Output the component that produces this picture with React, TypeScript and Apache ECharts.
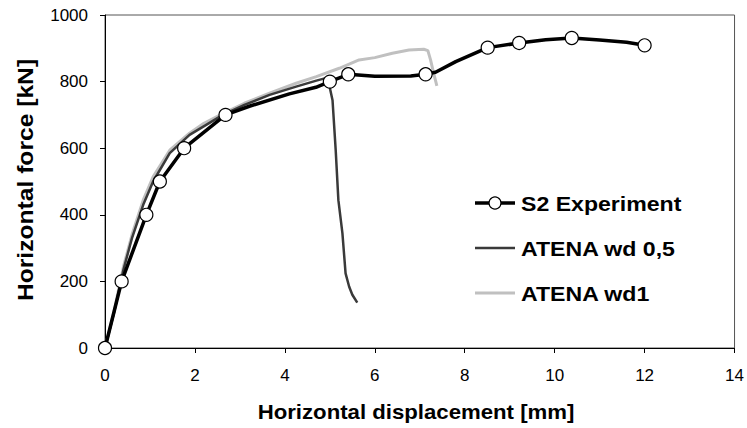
import React, { useEffect, useRef } from "react";
import * as echarts from "echarts";

// S2 Experiment: x, y and whether a marker is drawn at the point
const expX = [0, 0.37, 0.92, 1.22, 1.76, 2.68, 3.21, 4.1, 4.69, 5.0, 5.41, 6.0, 6.8, 7.13, 7.35, 7.8, 8.51, 9.21, 9.8, 10.38, 11.0, 11.6, 12.0];
const expY = [0, 200, 400, 500, 600, 700, 726, 763, 783, 800, 822, 816, 817, 822, 828, 860, 902, 916, 926, 931, 925, 918, 909];
const expMarker = [1, 1, 1, 1, 1, 1, 0, 0, 0, 1, 1, 0, 0, 1, 0, 0, 1, 1, 0, 1, 0, 0, 1];

const wd05X = [0, 0.2, 0.41, 0.6, 0.85, 1.07, 1.44, 1.88, 2.62, 3.1, 3.66, 4.25, 4.7, 4.95, 5.06, 5.13, 5.19, 5.28, 5.35, 5.43, 5.5, 5.61];
const wd05Y = [0, 105, 235, 330, 430, 500, 585, 640, 700, 730, 760, 785, 803, 812, 744, 595, 444, 344, 224, 184, 160, 136];

const wd1X = [0, 0.2, 0.41, 0.6, 0.85, 1.07, 1.44, 1.88, 2.2, 2.62, 3.1, 3.66, 4.25, 4.7, 5.21, 5.65, 6.0, 6.39, 6.76, 7.09, 7.18, 7.24, 7.3, 7.38];
const wd1Y = [0, 110, 244, 340, 444, 514, 594, 645, 675, 704, 735, 765, 795, 815, 840, 865, 872, 885, 895, 897, 893, 865, 830, 787];

const seriesNames = ["S2 Experiment", "ATENA wd 0,5", "ATENA wd1"];
const seriesColors = ["#000000", "#3a3a3a", "#c0c0c0"];
const xTitle = "Horizontal displacement [mm]";
const yTitle = "Horizontal force [kN]";

const FONT = "'Liberation Sans', Arial, sans-serif";

export default function App() {
  const ref = useRef<HTMLDivElement>(null);
  useEffect(() => {
    if (!ref.current) return;
    const chart = echarts.init(ref.current, null, { renderer: "svg" });
    const expData = expX.map((x, i) =>
      expMarker[i] ? { value: [x, expY[i]] } : { value: [x, expY[i]], symbol: "none" }
    );

    const legendRows = [203, 248, 293];
    const legendGraphics: any[] = [];
    seriesNames.forEach((name, i) => {
      const y = legendRows[i];
      legendGraphics.push({
        type: "line",
        shape: { x1: 475, y1: y, x2: 515, y2: y },
        style: { stroke: seriesColors[i], lineWidth: i === 0 ? 3.5 : i === 1 ? 2.5 : 3 },
      });
      if (i === 0) {
        legendGraphics.push({
          type: "circle",
          shape: { cx: 495, cy: y, r: 6 },
          style: { fill: "#fff", stroke: "#000", lineWidth: 1.2 },
        });
      }
      legendGraphics.push({
        type: "text",
        x: 521,
        y: y + 1,
        scaleX: 1.1,
        style: {
          text: name,
          fill: "#000",
          font: `bold 21px ${FONT}`,
          textAlign: "left",
          textVerticalAlign: "middle",
          verticalAlign: "middle",
        },
      });
    });

    chart.setOption({
      animation: false,
      backgroundColor: "#fff",
      grid: {
        left: 105,
        right: 10,
        top: 15,
        bottom: 80,
        show: true,
        borderColor: "#555",
        borderWidth: 1,
      },
      graphic: [
        ...legendGraphics,
        {
          type: "text",
          x: 416,
          y: 412,
          scaleX: 1.11,
          style: {
            text: xTitle,
            fill: "#000",
            font: `bold 20px ${FONT}`,
            textAlign: "center",
            textVerticalAlign: "middle",
            verticalAlign: "middle",
          },
        },
        {
          type: "text",
          x: 25,
          y: 180,
          rotation: Math.PI / 2,
          scaleX: 1.12,
          style: {
            text: yTitle,
            fill: "#000",
            font: `bold 22px ${FONT}`,
            textAlign: "center",
            textVerticalAlign: "middle",
            verticalAlign: "middle",
          },
        },
      ],
      xAxis: {
        type: "value",
        min: 0,
        max: 14,
        interval: 2,
        axisLine: { lineStyle: { color: "#000", width: 1 } },
        axisTick: { show: true, length: 5, lineStyle: { color: "#000" } },
        axisLabel: { fontFamily: FONT, fontSize: 17, color: "#000", margin: 19 },
        splitLine: { show: false },
      },
      yAxis: {
        type: "value",
        min: 0,
        max: 1000,
        interval: 200,
        axisLine: { show: true, lineStyle: { color: "#000", width: 1 } },
        axisTick: { show: true, length: 5, lineStyle: { color: "#000" } },
        axisLabel: {
          fontFamily: FONT,
          fontSize: 17,
          color: "#000",
          margin: 17,
          formatter: (v: number) => String(v),
        },
        splitLine: { show: false },
      },
      series: [
        {
          name: seriesNames[0],
          type: "line",
          z: 5,
          clip: false,
          data: expData,
          symbol: "circle",
          symbolSize: 13,
          showAllSymbol: true,
          itemStyle: { color: "#fff", borderColor: "#000", borderWidth: 1.2 },
          lineStyle: { color: seriesColors[0], width: 3.5 },
        },
        {
          name: seriesNames[1],
          type: "line",
          z: 4,
          data: wd05X.map((x, i) => [x, wd05Y[i]]),
          symbol: "none",
          lineStyle: { color: seriesColors[1], width: 2.5 },
        },
        {
          name: seriesNames[2],
          type: "line",
          z: 3,
          data: wd1X.map((x, i) => [x, wd1Y[i]]),
          symbol: "none",
          lineStyle: { color: seriesColors[2], width: 3 },
        },
      ],
    });
    return () => chart.dispose();
  }, []);
  return <div ref={ref} style={{ position: "fixed", left: 0, top: 0, width: 747, height: 428 }} />;
}
